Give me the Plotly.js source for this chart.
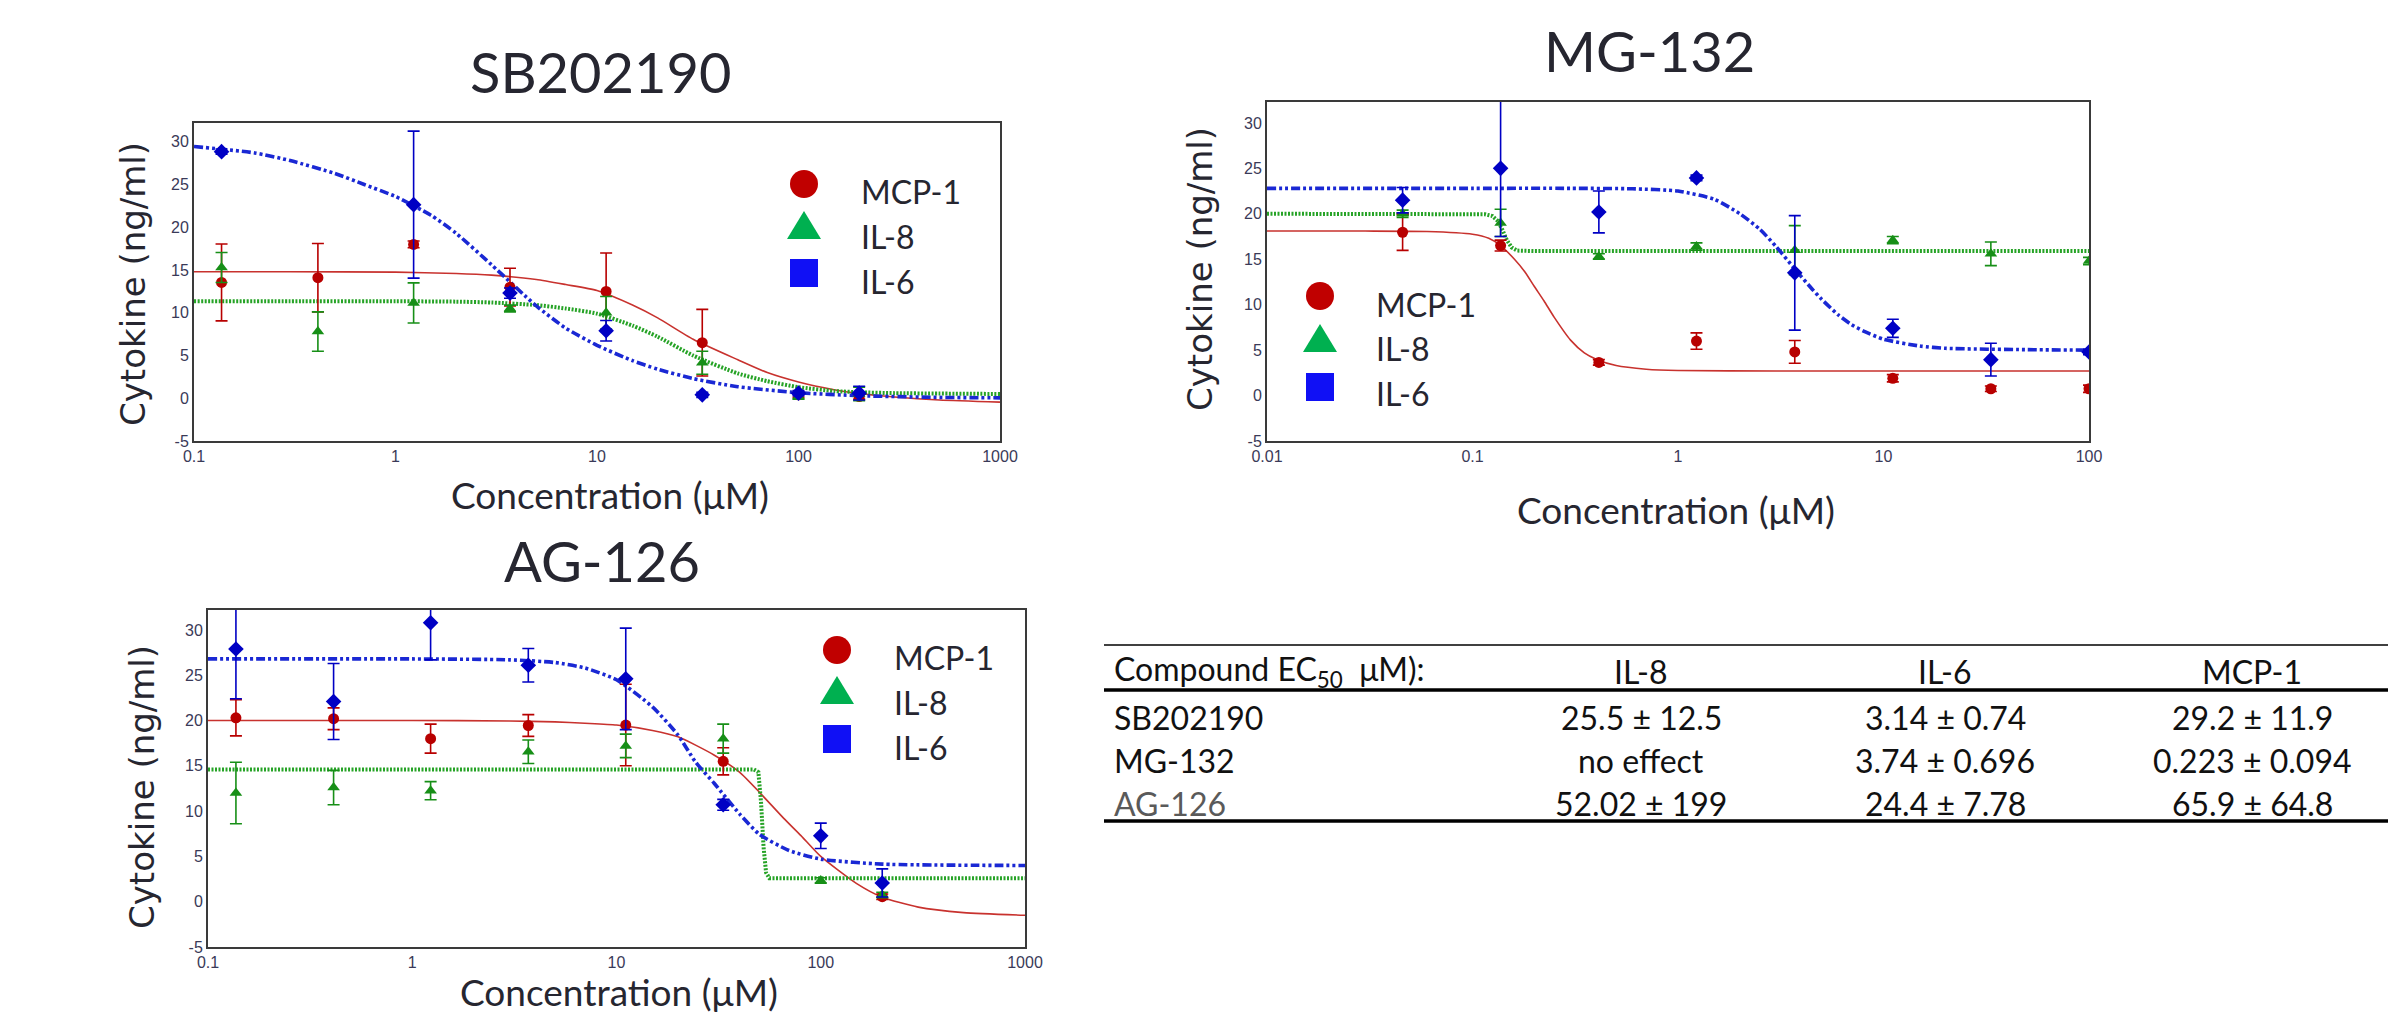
<!DOCTYPE html>
<html><head><meta charset="utf-8">
<script src="https://cdn.plot.ly/plotly-3.0.1.min.js"></script>
<style>html,body{margin:0;padding:0;background:#fff;}#g{width:2391px;height:1018px;}</style>
</head><body><div id="g"></div>
<script>
// ---------- DATA ----------
const concSB = [0.137, 0.412, 1.23, 3.7, 11.1, 33.3, 100, 200];
const concMG = [0.0457, 0.137, 0.412, 1.23, 3.7, 11.1, 33.3, 100];
const concAG = [0.137, 0.412, 1.23, 3.7, 11.1, 33.3, 100, 200];

const sbMCP1 = [13.55, 14.1, 18.0, 13.0, 12.5, 6.5, 0.4, 0.2];
const sbMCP1err = [4.5, 4.0, 0.4, 2.2, 4.5, 3.9, 0.3, 0.3];
const sbIL8 = [15.3, 7.8, 11.15, 10.5, 10.0, 4.15, 0.2, 0.5];
const sbIL8err = [1.75, 2.3, 2.35, 0.4, 1.9, 1.35, 0.3, 0.8];
const sbIL6 = [28.85, null, 22.65, 12.3, 7.9, 0.4, 0.6, 0.6];
const sbIL6err = [0.3, 0, 8.6, 0.6, 1.2, 0.3, 0.3, 0.8];

const mgMCP1 = [17.97, 16.5, 3.65, 6.0, 4.8, 1.9, 0.75, 0.75];
const mgMCP1err = [2.0, 0.6, 0.3, 0.9, 1.25, 0.4, 0.3, 0.4];
const mgIL8 = [20.0, 19.0, 15.3, 16.4, 16.0, 17.1, 15.6, 14.8];
const mgIL8err = [0.4, 1.5, 0.3, 0.4, 2.7, 0.4, 1.3, 0.4];
const mgIL6 = [21.5, 25.0, 20.2, 23.95, 13.5, 7.4, 3.95, 4.8];
const mgIL6err = [1.4, 7.5, 2.3, 0.3, 6.3, 1.0, 1.8, 0.3];

const agMCP1 = [20.3, 20.2, 18.0, 19.45, 19.5, 15.5, null, 0.55];
const agMCP1err = [2.0, 1.2, 1.6, 1.2, 4.5, 1.5, 0, 0.3];
const agIL8 = [12.0, 12.6, 12.25, 16.55, 17.2, 18.0, 2.35, 0.75];
const agIL8err = [3.4, 1.9, 1.0, 1.3, 1.3, 1.6, 0.3, 0.3];
const agIL6 = [27.9, 22.1, 30.8, 26.1, 24.6, 10.7, 7.27, 2.07];
const agIL6err = [5.5, 4.2, 4.1, 1.85, 5.6, 0.6, 1.4, 1.55];

// fitted curves
const sbFitX = [0.1, 0.3, 1, 2, 3, 5, 7, 10, 15, 20, 30, 50, 70, 100, 150, 200, 300, 500, 1000];
const sbFitMCP1 = [14.8, 14.8, 14.75, 14.6, 14.4, 13.9, 13.3, 12.6, 10.9, 9.4, 6.9, 4.5, 3.0, 1.9, 1.0, 0.55, 0.15, -0.2, -0.45];
const sbFitIL8 = [11.35, 11.35, 11.35, 11.3, 11.2, 10.9, 10.5, 9.9, 8.5, 7.2, 5.0, 2.9, 2.0, 1.3, 0.85, 0.7, 0.6, 0.55, 0.5];
const sbFitIL6X = [0.1, 0.2, 0.3, 0.5, 0.7, 1, 1.5, 2, 3, 5, 7, 10, 15, 20, 30, 50, 100, 200, 500, 1000];
const sbFitIL6 = [29.45, 28.7, 27.8, 26.3, 25.0, 23.6, 21.4, 19.3, 15.6, 10.8, 8.2, 6.2, 4.4, 3.4, 2.3, 1.35, 0.65, 0.3, 0.1, 0.05];

const mgFitMCP1X = [0.01, 0.03, 0.06, 0.1, 0.12, 0.137, 0.16, 0.18, 0.2, 0.223, 0.25, 0.3, 0.35, 0.4, 0.5, 0.7, 1, 3, 10, 100];
const mgFitMCP1 = [18.1, 18.1, 18.05, 17.75, 17.3, 16.5, 15.0, 13.6, 12.0, 10.4, 8.6, 6.1, 4.7, 4.0, 3.3, 2.9, 2.75, 2.7, 2.7, 2.7];
const mgFitIL8X = [0.01, 0.1, 0.115, 0.125, 0.133, 0.14, 0.147, 0.155, 0.165, 0.2, 1, 10, 100];
const mgFitIL8 = [20.0, 20.0, 19.95, 19.75, 19.2, 18.2, 17.1, 16.3, 15.95, 15.9, 15.9, 15.9, 15.9];
const mgFitIL6X = [0.01, 0.1, 0.3, 0.6, 1, 1.5, 2, 2.5, 3, 3.74, 4.5, 5, 6, 7, 8, 10, 15, 20, 50, 100];
const mgFitIL6 = [22.8, 22.8, 22.8, 22.75, 22.5, 21.6, 20.0, 18.3, 16.4, 13.8, 11.7, 10.6, 8.9, 7.8, 7.1, 6.2, 5.45, 5.2, 5.05, 5.0];

const agFitMCP1X = [0.1, 1, 3, 5, 7, 10, 15, 20, 30, 40, 50, 65.9, 80, 100, 150, 200, 300, 500, 1000];
const agFitMCP1 = [20.0, 20.0, 19.95, 19.85, 19.7, 19.5, 18.9, 18.2, 16.2, 14.3, 12.1, 9.2, 7.3, 5.0, 2.0, 0.5, -0.6, -1.2, -1.5];
const agFitIL8X = [0.1, 47, 49.5, 51, 52.5, 54, 56, 1000];
const agFitIL8 = [14.6, 14.6, 14.3, 11.0, 6.0, 3.2, 2.6, 2.6];
const agFitIL6X = [0.1, 1, 3, 5, 7, 10, 15, 20, 24.4, 30, 40, 50, 70, 100, 200, 1000];
const agFitIL6 = [26.8, 26.8, 26.7, 26.4, 25.8, 24.5, 21.5, 18.4, 15.4, 13.1, 9.7, 7.45, 5.65, 4.7, 4.15, 4.0];

const yTickVals = [-5, 0, 5, 10, 15, 20, 25, 30];
const yTickText = ['-5', '0', '5', '10', '15', '20', '25', '30'];
const xTickValsA = [0.1, 1, 10, 100, 1000];
const xTickTextA = ['0.1', '1', '10', '100', '1000'];
const xTickValsB = [0.01, 0.1, 1, 10, 100];
const xTickTextB = ['0.01', '0.1', '1', '10', '100'];

const chartTitles = ['SB202190', 'MG-132', 'AG-126'];
const seriesNames = ['MCP-1', 'IL-8', 'IL-6'];
const xTitle = 'Concentration (μM)';
const yTitle = 'Cytokine (ng/ml)';

const tableHeader = ['Compound EC<sub>50</sub>\u00a0\u00a0μM):', 'IL-8', 'IL-6', 'MCP-1'];
const tableCompounds = ['SB202190', 'MG-132', 'AG-126'];
const tableIL8 = ['25.5 ± 12.5', 'no effect', '52.02 ± 199'];
const tableIL6 = ['3.14 ± 0.74', '3.74 ± 0.696', '24.4 ± 7.78'];
const tableMCP1 = ['29.2 ± 11.9', '0.223 ± 0.094', '65.9 ± 64.8'];

// ---------- STYLE ----------
const W = 2391, H = 1018;
const fx = p => p / W, fy = p => 1 - p / H;
const RED = '#b80000', GREEN = '#178f17', BLUE = '#0000c4';
const RED_L = '#c8322e', GREEN_L = '#26a326', BLUE_L = '#1a28d4';
const FONT_C = 'Lato, "Open Sans", sans-serif';
const FONT_Y = '"DejaVu Sans", sans-serif';
const FONT_T = '"Liberation Sans", Arial, sans-serif';

const traces = [];
function addChart(ax, fits, conc, data, linearFits) {
  const xa = 'x' + (ax === 1 ? '' : ax), ya = 'y' + (ax === 1 ? '' : ax);
  const lineStyles = [
    {color: RED_L, width: 1.6, dash: 'solid'},
    {color: GREEN_L, width: 4, dash: '2px,1.5px'},
    {color: BLUE_L, width: 3.6, dash: '9px,3px,3px,3px,3px,3px'}
  ];
  fits.forEach((f, i) => {
    const ln = Object.assign({}, lineStyles[i]);
    if (linearFits.indexOf(i) >= 0) { ln.shape = 'linear'; } else { ln.shape = 'spline'; ln.smoothing = 0.6; }
    traces.push({x: f[0], y: f[1], xaxis: xa, yaxis: ya, mode: 'lines', line: ln, showlegend: false, hoverinfo: 'skip'});
  });
  const syms = ['circle', 'triangle-up', 'diamond'];
  const cols = [RED, GREEN, BLUE];
  const sizes = [11, 11, 12];
  data.forEach((d, i) => traces.push({x: conc, y: d[0], xaxis: xa, yaxis: ya, mode: 'markers', name: seriesNames[i],
    marker: {symbol: syms[i], color: cols[i], size: sizes[i]},
    error_y: {type: 'data', array: d[1], visible: true, color: cols[i], thickness: 1.6, width: 6},
    showlegend: false}));
}
addChart(1, [[sbFitX, sbFitMCP1], [sbFitX, sbFitIL8], [sbFitIL6X, sbFitIL6]], concSB,
  [[sbMCP1, sbMCP1err], [sbIL8, sbIL8err], [sbIL6, sbIL6err]], []);
addChart(2, [[mgFitMCP1X, mgFitMCP1], [mgFitIL8X, mgFitIL8], [mgFitIL6X, mgFitIL6]], concMG,
  [[mgMCP1, mgMCP1err], [mgIL8, mgIL8err], [mgIL6, mgIL6err]], [1]);
addChart(3, [[agFitMCP1X, agFitMCP1], [agFitIL8X, agFitIL8], [agFitIL6X, agFitIL6]], concAG,
  [[agMCP1, agMCP1err], [agIL8, agIL8err], [agIL6, agIL6err]], [1]);

function xAxis(dom, range, tv, tt, anchor) {
  return {domain: dom, type: 'log', range: range, anchor: anchor, showline: true, mirror: true, linecolor: '#3a3a3a', linewidth: 2,
    showgrid: false, zeroline: false, ticks: '', tickvals: tv, ticktext: tt,
    tickfont: {family: FONT_T, size: 16, color: '#3a3a58'}, fixedrange: true};
}
function yAxis(dom, range, anchor) {
  return {domain: dom, range: range, anchor: anchor, showline: true, mirror: true, linecolor: '#3a3a3a', linewidth: 2,
    showgrid: false, zeroline: false, ticks: '', tickvals: yTickVals, ticktext: yTickText,
    tickfont: {family: FONT_T, size: 16, color: '#3a3a58'}, fixedrange: true};
}

const annotations = [], shapes = [];
function txt(text, x, y, size, family, opts) {
  annotations.push(Object.assign({text: text, x: fx(x), y: fy(y), xref: 'paper', yref: 'paper', showarrow: false,
    xanchor: 'center', yanchor: 'middle', font: {family: family, size: size, color: '#262630'}}, opts || {}));
}
const charts = [
  {t: [600, 71], xl: [610, 494], yl: [133, 284], leg: [804, 859, [184, 225, 273], [191, 236, 281]]},
  {t: [1649, 51], xl: [1676, 509], yl: [1200, 269], leg: [1320, 1374, [296, 338, 387], [304, 348, 393]]},
  {t: [602, 560], xl: [619, 991], yl: [142, 787], leg: [837, 892, [650, 690, 739], [657, 702, 747]]}
];
charts.forEach((c, i) => {
  txt(chartTitles[i], c.t[0], c.t[1], 56, FONT_C);
  txt(xTitle, c.xl[0], c.xl[1], 37, FONT_C);
  txt(yTitle, c.yl[0], c.yl[1], 34, FONT_Y, {textangle: -90});
  const mx = c.leg[0];
  const my = c.leg[2];
  shapes.push({type: 'circle', xref: 'paper', yref: 'paper', x0: fx(mx - 14), x1: fx(mx + 14), y0: fy(my[0] + 14), y1: fy(my[0] - 14),
    fillcolor: '#c00000', line: {width: 0}});
  shapes.push({type: 'path', xref: 'paper', yref: 'paper',
    path: `M ${fx(mx - 17)} ${fy(my[1] + 14)} L ${fx(mx + 17)} ${fy(my[1] + 14)} L ${fx(mx)} ${fy(my[1] - 14)} Z`,
    fillcolor: '#00b050', line: {width: 0}});
  shapes.push({type: 'rect', xref: 'paper', yref: 'paper', x0: fx(mx - 14), x1: fx(mx + 14), y0: fy(my[2] + 14), y1: fy(my[2] - 14),
    fillcolor: '#1010f5', line: {width: 0}});
  seriesNames.forEach((s, k) => txt(s, c.leg[1], c.leg[3][k], 32, FONT_C, {xanchor: 'left'}));
});

// table
const tColX = [1112, 1641, 1945, 2252];
const tRowY = [717, 760, 803];
tableHeader.forEach((h, k) => txt(h, tColX[k], 671, 32, FONT_C, {xanchor: k === 0 ? 'left' : 'center', font: {family: FONT_C, size: 32, color: '#111'}}));
tableCompounds.forEach((c, r) => {
  const col = r === 2 ? '#5a5a5a' : '#111';
  txt(c, tColX[0], tRowY[r], 32, FONT_C, {xanchor: 'left', font: {family: FONT_C, size: 32, color: col}});
  txt(tableIL8[r], tColX[1], tRowY[r], 32, FONT_C, {font: {family: FONT_C, size: 32, color: '#111'}});
  txt(tableIL6[r], tColX[2], tRowY[r], 32, FONT_C, {font: {family: FONT_C, size: 32, color: '#111'}});
  txt(tableMCP1[r], tColX[3], tRowY[r], 32, FONT_C, {font: {family: FONT_C, size: 32, color: '#111'}});
});
[[645, 1.5], [690, 3.5], [821, 3.5]].forEach(l => shapes.push({type: 'line', xref: 'paper', yref: 'paper',
  x0: fx(1104), x1: fx(2388), y0: fy(l[0]), y1: fy(l[0]), line: {color: '#000', width: l[1]}}));

const layout = {
  width: W, height: H, margin: {l: 0, r: 0, t: 0, b: 0}, paper_bgcolor: '#fff', plot_bgcolor: '#fff', showlegend: false,
  xaxis: xAxis([fx(194), fx(1000)], [-1, 3], xTickValsA, xTickTextA, 'y'),
  yaxis: yAxis([fy(441), fy(123)], [-5, 32.2], 'x'),
  xaxis2: xAxis([fx(1267), fx(2089)], [-2, 2], xTickValsB, xTickTextB, 'y2'),
  yaxis2: yAxis([fy(441), fy(102)], [-5, 32.3], 'x2'),
  xaxis3: xAxis([fx(208), fx(1025)], [-1, 3], xTickValsA, xTickTextA, 'y3'),
  yaxis3: yAxis([fy(947), fy(610)], [-5, 32.2], 'x3'),
  annotations: annotations, shapes: shapes
};
Plotly.newPlot('g', traces, layout, {staticPlot: true});
</script></body></html>
